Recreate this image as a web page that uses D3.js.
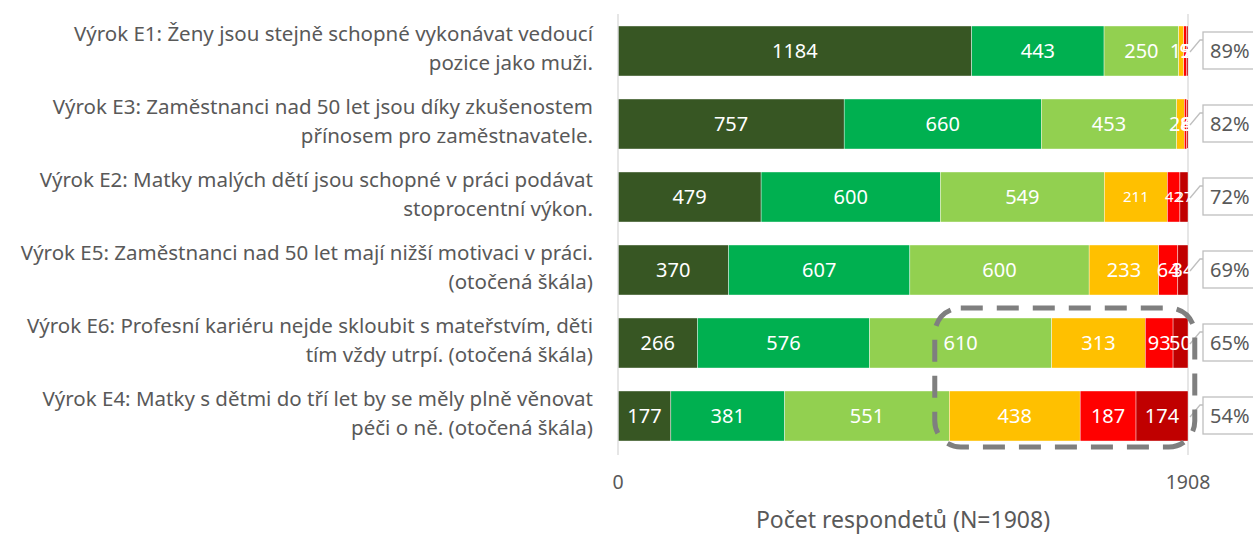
<!DOCTYPE html>
<html><head><meta charset="utf-8">
<script src="https://cdn.jsdelivr.net/npm/d3@7"></script>
<style>body{margin:0;background:#fff}svg{display:block}</style>
</head><body>
<svg id="c" width="1253" height="534"></svg>
<script>
const categories = [
  ["Výrok E1: Ženy jsou stejně schopné vykonávat vedoucí", "pozice jako muži."],
  ["Výrok E3: Zaměstnanci nad 50 let jsou díky zkušenostem", "přínosem pro zaměstnavatele."],
  ["Výrok E2: Matky malých dětí jsou schopné v práci podávat", "stoprocentní výkon."],
  ["Výrok E5: Zaměstnanci nad 50 let mají nižší motivaci v práci.", "(otočená škála)"],
  ["Výrok E6: Profesní kariéru nejde skloubit s mateřstvím, děti", "tím vždy utrpí. (otočená škála)"],
  ["Výrok E4: Matky s dětmi do tří let by se měly plně věnovat", "péči o ně. (otočená škála)"]
];
const seriesNames = ["s1","s2","s3","s4","s5","s6"];
const s1 = [1184, 757, 479, 370, 266, 177];
const s2 = [443, 660, 600, 607, 576, 381];
const s3 = [250, 453, 549, 600, 610, 551];
const s4 = [17, 26, 211, 233, 313, 438];
const s5 = [9, 8, 42, 64, 93, 187];
const s6 = [5, 4, 27, 34, 50, 174];
const percentLabels = ["89%", "82%", "72%", "69%", "65%", "54%"];
const axisTicks = [0, 1908];
const total = 1908;
const axisTitle = "Počet respondetů (N=1908)";
const colors = ["#375623", "#00B050", "#92D050", "#FFC000", "#FF0000", "#C00000"];

const series = [s1, s2, s3, s4, s5, s6];
const rows = categories.map((c, i) => {
  const o = {key: i};
  seriesNames.forEach((s, j) => o[s] = series[j][i]);
  return o;
});
const stacked = d3.stack().keys(seriesNames)(rows);

const svg = d3.select("#c");
const font = "'Noto Sans', 'Open Sans', sans-serif";
const x = d3.scaleLinear().domain([0, total]).range([618, 1188]);
const y = d3.scaleBand().domain(d3.range(categories.length)).range([14.5, 452.5]).paddingInner(0.315).paddingOuter(0.1575);

// gridline at max
svg.append("line").attr("x1", x(total)).attr("x2", x(total)).attr("y1", 14).attr("y2", 455)
  .attr("stroke", "#D9D9D9").attr("stroke-width", 1.3);

// bars
const g = svg.append("g");
stacked.forEach((layer, j) => {
  g.selectAll(null).data(layer).enter().append("rect")
    .attr("x", d => x(d[0])).attr("width", d => x(d[1]) - x(d[0]))
    .attr("y", (d, i) => y(i)).attr("height", y.bandwidth())
    .attr("fill", colors[j]).attr("stroke", "#ffffff").attr("stroke-width", 0.4);
});

// value labels
stacked.forEach((layer, j) => {
  g.selectAll(null).data(layer).enter().append("text")
    .attr("x", d => (x(d[0]) + x(d[1])) / 2)
    .attr("y", (d, i) => y(i) + y.bandwidth() / 2)
    .attr("dy", "0.36em").attr("text-anchor", "middle")
    .attr("fill", "#fff").attr("font-family", font)
    .attr("font-size", (d, i) => (i === 2 && j >= 3) ? 15 : 20)
    .text(d => d[1] - d[0]);
});

// axis line
svg.append("line").attr("x1", x(0)).attr("x2", x(0)).attr("y1", 14).attr("y2", 455)
  .attr("stroke", "#D9D9D9").attr("stroke-width", 1.3);

// ticks
svg.selectAll(null).data(axisTicks).enter().append("text")
  .attr("x", d => x(d)).attr("y", 489).attr("text-anchor", "middle")
  .attr("fill", "#595959").attr("font-family", font).attr("font-size", 19.5)
  .text(d => d);

svg.append("text").attr("x", (x(0) + x(total)) / 2).attr("y", 528).attr("text-anchor", "middle")
  .attr("fill", "#595959").attr("font-family", font).attr("font-size", 23).text(axisTitle);

// category labels
categories.forEach((c, i) => {
  const cy = y(i) + y.bandwidth() / 2;
  const t = svg.append("text").attr("text-anchor", "end").attr("fill", "#595959")
    .attr("font-family", font).attr("font-size", 20.5);
  t.append("tspan").attr("x", 593).attr("y", cy - 10.5).text(c[0]);
  t.append("tspan").attr("x", 593).attr("y", cy + 18.5).text(c[1]);
});

// percent callouts
percentLabels.forEach((p, i) => {
  const cy = y(i) + y.bandwidth() / 2;
  svg.append("path").attr("d", `M${x(total) + 2},${cy + 1} L${x(total) + 12},${cy - 11} L${x(total) + 15},${cy - 11}`)
    .attr("fill", "none").attr("stroke", "#BFBFBF").attr("stroke-width", 1.3);
  svg.append("rect").attr("x", x(total) + 15).attr("y", cy - 19).attr("width", 70).attr("height", 37)
    .attr("fill", "#fff").attr("stroke", "#BFBFBF").attr("stroke-width", 1.3);
  svg.append("text").attr("x", x(total) + 22).attr("y", cy).attr("dy", "0.36em")
    .attr("fill", "#595959").attr("font-family", font).attr("font-size", 20).text(p);
});

// dashed highlight
svg.append("rect").attr("x", x(s1[4] + s2[4] + s3[4]) - 117).attr("y", 308).attr("width", 260).attr("height", 139)
  .attr("rx", 26).attr("ry", 26).attr("fill", "none").attr("stroke", "#7F7F7F")
  .attr("stroke-width", 5).attr("stroke-dasharray", "22,14");
</script>
</body></html>
